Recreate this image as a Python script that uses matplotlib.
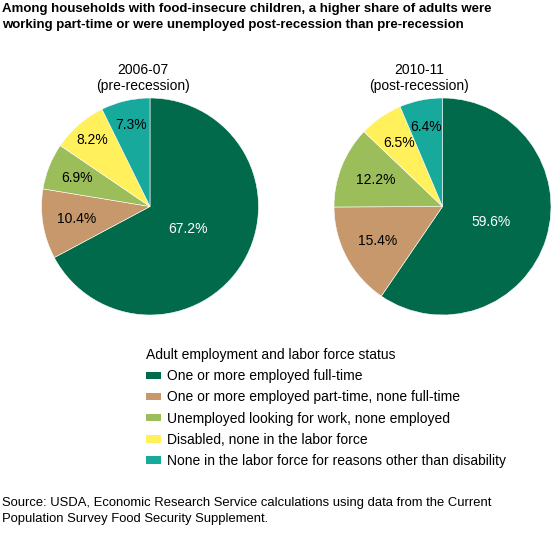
import numpy as np
import matplotlib
matplotlib.use('Agg')
import matplotlib.pyplot as plt
from matplotlib.patches import Patch

plt.rcParams['font.family'] = ['Liberation Sans', 'DejaVu Sans']

# data
categories = ['One or more employed full-time',
              'One or more employed part-time, none full-time',
              'Unemployed looking for work, none employed',
              'Disabled, none in the labor force',
              'None in the labor force for reasons other than disability']
pre_vals = [67.2, 10.4, 6.9, 8.2, 7.3]
post_vals = [59.6, 15.4, 12.2, 6.5, 6.4]
pie_titles = ['2006-07\n(pre-recession)', '2010-11\n(post-recession)']

colors = ['#006a4a', '#c6986b', '#9bbd5a', '#fff05c', '#16a99c']
txt_colors = ['white', 'black', 'black', 'black', 'black']

W, H = 551, 543
fig = plt.figure(figsize=(W/100, H/100), dpi=100)

def px_ax(cx, cy, r):
    return fig.add_axes([(cx-r)/W, 1-(cy+r)/H, 2*r/W, 2*r/H])

def draw_pie(ax, vals, dists):
    wedges, _ = ax.pie(vals, colors=colors, startangle=90, counterclock=False,
                       radius=1, wedgeprops=dict(edgecolor='white', linewidth=0.4))
    for w, v, d, c in zip(wedges, vals, dists, txt_colors):
        a = np.deg2rad((w.theta1+w.theta2)/2)
        ax.text(d*np.cos(a), d*np.sin(a), '%.1f%%' % v, ha='center', va='center',
                fontsize=10, color=c)
    ax.set_xlim(-1, 1)
    ax.set_ylim(-1, 1)
    ax.set_aspect('equal')
    ax.axis('off')

ax1 = px_ax(150, 206.5, 108.5)
draw_pie(ax1, pre_vals, [0.41, 0.69, 0.72, 0.81, 0.77])
ax2 = px_ax(442.5, 206.5, 108.5)
draw_pie(ax2, post_vals, [0.47, 0.68, 0.66, 0.71, 0.75])

fig.text(143/W, 1-78/H, pie_titles[0], ha='center', va='center', fontsize=10, linespacing=1.15)
fig.text(419/W, 1-78/H, pie_titles[1], ha='center', va='center', fontsize=10, linespacing=1.15)

fig.text(2/W, 1-3/H, 'Among households with food-insecure children, a higher share of adults were\n'
         'working part-time or were unemployed post-recession than pre-recession',
         ha='left', va='top', fontsize=9.55, fontweight='bold', linespacing=1.45)

fig.text(2/W, 1-497/H, 'Source: USDA, Economic Research Service calculations using data from the Current\n'
         'Population Survey Food Security Supplement.',
         ha='left', va='top', fontsize=9.4, linespacing=1.4)

handles = [Patch(facecolor=c, edgecolor='none') for c in colors]
leg = fig.legend(handles, categories, title='Adult employment and labor force status',
                 loc='upper left', bbox_to_anchor=(146/W, 1-348/H), frameon=False,
                 fontsize=10, title_fontsize=10, alignment='left',
                 handlelength=1.1, handleheight=0.45, handletextpad=0.4,
                 labelspacing=0.52, borderpad=0, borderaxespad=0)

fig.savefig('out.png', dpi=100)
